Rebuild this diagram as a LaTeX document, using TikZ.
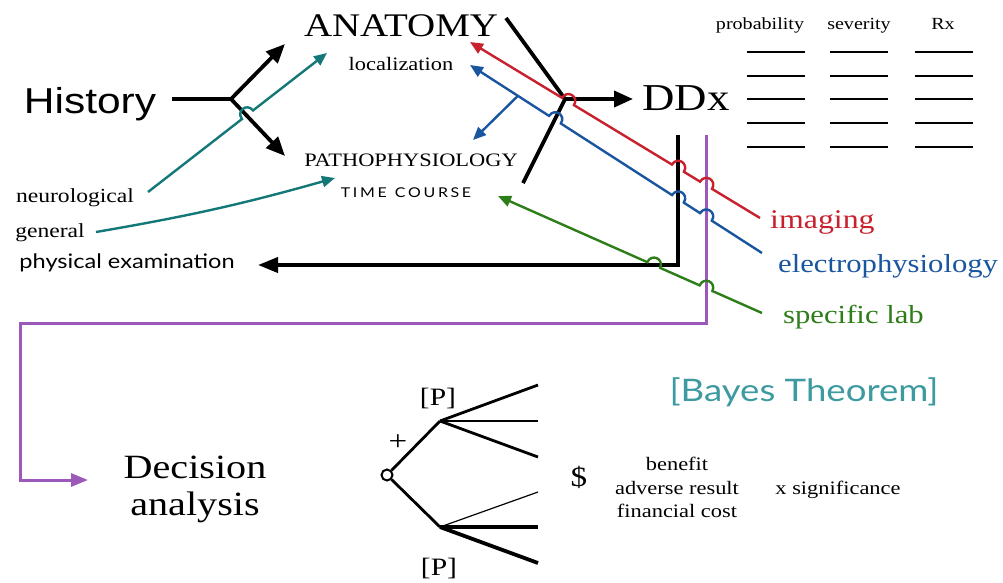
\documentclass[tikz,border=0pt]{standalone}
\usepackage{fontspec}
\setmainfont{Liberation Serif}
\newfontfamily\helv{Liberation Sans}
\newfontfamily\papy{Lato}
\usetikzlibrary{arrows.meta,calc}
\newcommand{\stretchx}[1]{\scalebox{1.18}[1]{#1}}
\newcommand{\fs}[1]{\fontsize{#1}{#1}\selectfont}
\definecolor{myred}{HTML}{C8202D}
\definecolor{myblue}{HTML}{1A56A0}
\definecolor{mygreen}{HTML}{2D7D19}
\definecolor{myteal}{HTML}{157878}
\definecolor{bayes}{HTML}{3C9AA0}
\definecolor{mypurple}{HTML}{9B5AB9}
\begin{document}
\begin{tikzpicture}[x=1pt,y=-1pt,
  lbl/.style={inner sep=0pt, anchor=base},
  blk/.style={line width=3.8pt, black},
  bigtip/.style={-{Triangle[length=19pt,width=16pt]}},
  ctip/.style={-{Triangle[length=13pt,width=11pt]}},
  colline/.style={line width=2.4pt},
  hop/.style n args={3}{insert path={-- ($(#2)!7pt!(#1)$) .. controls ($(#2)!7pt!(#1)!10pt!-90:(#2)$) and ($(#2)!7pt!(#3)!10pt!90:(#2)$) .. ($(#2)!7pt!(#3)$)}}
]
\useasboundingbox (0,0) rectangle (1003,582);
\fill[white] (0,0) rectangle (1003,582);

% ---- texts
\node[lbl, font=\helv\fs{36}] (hist) at (90,113) {\stretchx{History}};
\node[lbl, font=\fs{33}] (anat) at (401,36) {\stretchx{ANATOMY}};
\node[lbl, font=\fs{19}] (loc) at (401,70) {\stretchx{localization}};
\node[lbl, font=\fs{19}] (patho) at (411,166) {\stretchx{PATHOPHYSIOLOGY}};
\node[lbl, font=\papy\fs{13.5}] (time) at (406,197) {\stretchx{T\,I\,M\,E\ \ C\,O\,U\,R\,S\,E}};
\node[lbl, font=\fs{20}] (neuro) at (75,202) {\stretchx{neurological}};
\node[lbl, font=\fs{20}] (gen) at (50,237) {\stretchx{general}};
\node[lbl, font=\papy\fs{20}] (phys) at (127,268) {\stretchx{physical examination}};
\node[lbl, font=\fs{38}] (ddx) at (686,110) {\stretchx{DDx}};
\node[lbl, anchor=base west, font=\fs{27}, text=myred] (img) at (770,228) {\stretchx{imaging}};
\node[lbl, anchor=base west, font=\fs{26}, text=myblue] (ephys) at (778,272) {\stretchx{electrophysiology}};
\node[lbl, anchor=base west, font=\fs{26}, text=mygreen] (lab) at (783,323) {\stretchx{specific lab}};
\node[lbl, font=\fs{17}] (prob) at (760,29) {\stretchx{probability}};
\node[lbl, font=\fs{17}] (sev) at (859,29) {\stretchx{severity}};
\node[lbl, font=\fs{17}] (rx) at (943,29) {\stretchx{Rx}};
\node[lbl, font=\fs{34}] (dec1) at (195,478) {\stretchx{Decision}};
\node[lbl, font=\fs{34}] (dec2) at (195,515) {\stretchx{analysis}};
\node[lbl, font=\fs{25}] (p1) at (438,405) {\stretchx{[P]}};
\node[lbl, font=\fs{25}] (p2) at (439,575) {\stretchx{[P]}};
\node[lbl, font=\fs{28}] (plus) at (398,450) {\stretchx{+}};
\node[lbl, font=\fs{28}] (dollar) at (579,486) {\stretchx{\$}};
\node[lbl, font=\fs{19}] (ben) at (677,470) {\stretchx{benefit}};
\node[lbl, font=\fs{19}] (adv) at (677,494) {\stretchx{adverse result}};
\node[lbl, font=\fs{19}] (fin) at (677,517) {\stretchx{financial cost}};
\node[lbl, font=\fs{19}] (sig) at (838,494) {\stretchx{x significance}};
\node[lbl, font=\papy\fs{31}, text=bayes] (bay) at (804,401) {\stretchx{[Bayes Theorem]}};

% ---- table lines
\foreach \yy in {52,76,99,123,147}
  \foreach \xx in {747,830,915}
    \draw[line width=2.4pt] (\xx,\yy) -- ++(58,0);

% ---- coordinates
\coordinate (hS) at (172,99);
\coordinate (hJ) at (231,99);
\coordinate (hA) at (285,44);
\coordinate (hP) at (285,156);
\coordinate (dT) at (506,18);
\coordinate (dJ) at (565,99);
\coordinate (dB) at (523,183);
\coordinate (dA) at (633,99);
\coordinate (vT) at (678,135);
\coordinate (vC) at (678,265);
\coordinate (peT) at (258,265);
\coordinate (pT) at (706,135);
\coordinate (pC1) at (706,323);
\coordinate (pC2) at (20,323);
\coordinate (pC3) at (20,480);
\coordinate (pTip) at (88,480);

\coordinate (rS) at (760,218);
\coordinate (rE) at (470,42);
\coordinate (rX1) at ($(rS)!0.186!(rE)$);
\coordinate (rX2) at ($(rS)!0.283!(rE)$);
\coordinate (rX3) at ($(rS)!0.662!(rE)$);
\coordinate (bS) at (762,253);
\coordinate (bE) at (470,65);
\coordinate (bX1) at ($(bS)!0.192!(bE)$);
\coordinate (bX2) at ($(bS)!0.288!(bE)$);
\coordinate (bX3) at ($(bS)!0.709!(bE)$);
\coordinate (bB) at ($(bS)!0.836!(bE)$);
\coordinate (bBT) at (473,140);
\coordinate (gS) at (762,313);
\coordinate (gE) at (498,196);
\coordinate (gX1) at ($(gS)!0.212!(gE)$);
\coordinate (gX2) at ($(gS)!0.41!(gE)$);
\coordinate (tT) at (327,53);
\coordinate (tS) at (148,192);
\coordinate (tX) at ($(tT)!0.444!(tS)$);
\coordinate (gnS) at (96,232);
\coordinate (gnT) at (335,178);

% ---- black structure
\draw[blk] (hS) -- (hJ);
\draw[blk, {Triangle[length=19pt,width=16pt]}-{Triangle[length=19pt,width=16pt]}, line join=round] (hA) -- (hJ) -- (hP);
\draw[blk, line join=round] (dT) -- (dJ) -- (dB);
\draw[blk, bigtip] (dJ) -- (dA);
\draw[blk, -{Triangle[length=20pt,width=15pt]}] (vT) -- (vC) -- (peT);
\draw[line width=3pt, mypurple, -{Triangle[length=17pt,width=13pt]}] (pT) -- (pC1) -- (pC2) -- (pC3) -- (pTip);

% ---- coloured connectors
\draw[colline, myred, ctip] (rS) [hop={rS}{rX1}{rE}] [hop={rS}{rX2}{rE}] [hop={rS}{rX3}{rE}] -- (rE);
\draw[colline, myblue, ctip] (bS) [hop={bS}{bX1}{bE}] [hop={bS}{bX2}{bE}] [hop={bS}{bX3}{bE}] -- (bE);
\draw[colline, myblue, ctip] (bB) -- (bBT);
\draw[colline, mygreen, ctip] (gS) [hop={gS}{gX1}{gE}] [hop={gS}{gX2}{gE}] -- (gE);
\draw[colline, myteal, {Triangle[length=13pt,width=11pt]}-] (tT) [hop={tT}{tX}{tS}] -- (tS);
\draw[colline, myteal, ctip] (gnS) to[bend right=3] (gnT);

% ---- decision tree
\node[draw, circle, line width=2pt, minimum size=11pt, inner sep=0pt, fill=white] (dc) at (387,475) {};
\coordinate (du) at (440,421);
\coordinate (dl) at (440,527);
\coordinate (l1) at (538,385);
\coordinate (l2) at (538,421);
\coordinate (l3) at (538,457);
\coordinate (l4) at (538,492);
\coordinate (l5) at (538,527);
\coordinate (l6) at (538,563);
\draw[line width=2.8pt] (dc) -- (du);
\draw[line width=2.8pt] (dc) -- (dl);
\draw[line width=2.8pt] (du) -- (l1);
\draw[line width=2.8pt] (du) -- (l2);
\draw[line width=2.8pt] (du) -- (l3);
\draw[line width=1.2pt] (dl) -- (l4);
\draw[line width=3.8pt] (dl) -- (l5);
\draw[line width=3.8pt] (dl) -- (l6);
\end{tikzpicture}
\end{document}
